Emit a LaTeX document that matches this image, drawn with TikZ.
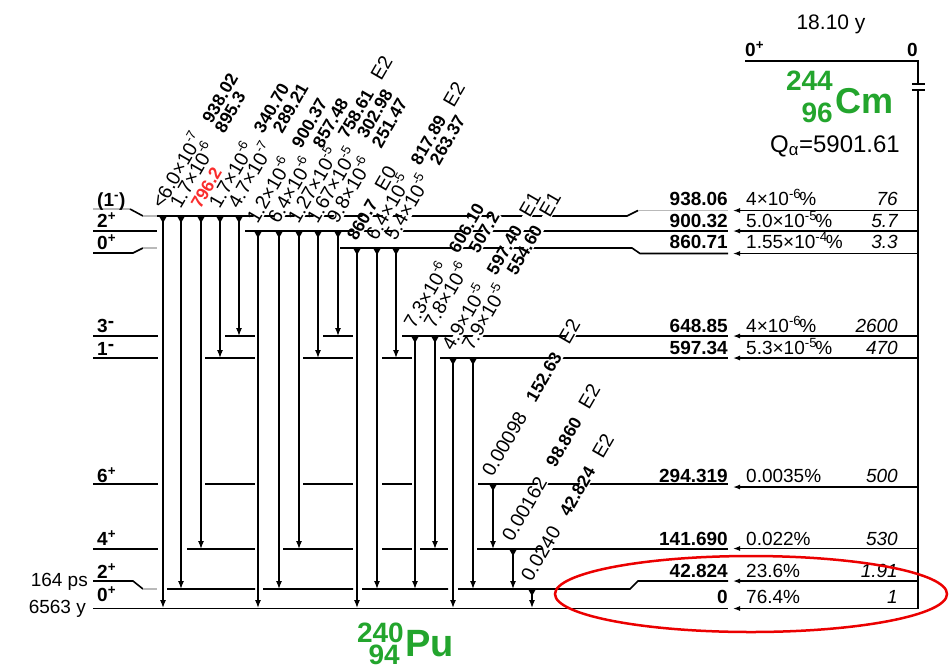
\documentclass[tikz,border=0pt]{standalone}
\usepackage{fontspec}
\setmainfont{Liberation Sans}
\usetikzlibrary{arrows.meta}
\definecolor{nucgreen}{RGB}{35,165,45}
\definecolor{labred}{RGB}{250,45,45}
\definecolor{ellred}{RGB}{235,0,0}
\newcommand\fsz[1]{\fontsize{#1}{#1}\selectfont}
\newcommand\tenp[1]{×10\textsuperscript{#1}}
\newcommand\rtenp[1]{×10\raisebox{0.42em}{\fsz{13}#1}}
\newcommand\en[1]{{\fsz{17.5}\bfseries #1}}
% transition: name, x, ytop, ybottom, label
\newcommand\gtrans[5]{%
  \coordinate (#1-t) at (#2,#3);
  \coordinate (#1-b) at (#2,#4);
  \draw[trarrow] (#1-t) -- (#1-b);
  \fill (#2-4,#3) -- (#2+4,#3) -- (#2,#3+7) -- cycle;
  \node[tlab] (#1-l) at (#2-1,#3-5) {#5};}
\begin{document}
\begin{tikzpicture}[x=1pt,y=-1pt,
  lv/.style={line width=1.6pt},
  lvg/.style={line width=1.6pt,gray!55},
  trarrow/.style={line width=1.3pt,-{Latex[length=8pt,width=6pt]}},
  alarrow/.style={line width=1.3pt,-{Latex[length=7pt,width=5pt]}},
  tlab/.style={rotate=60,anchor=base west,inner sep=1pt,fill=white,
    text height=1.25ex,text depth=0pt,font=\fsz{19.5}},
  lvlab/.style={anchor=base west,inner sep=0pt,font=\fsz{19}\bfseries},
  enlab/.style={anchor=base east,inner sep=0pt,font=\fsz{19}\bfseries},
  inlab/.style={anchor=base west,inner sep=0pt,font=\fsz{19}},
  hflab/.style={anchor=base east,inner sep=0pt,font=\fsz{19}\itshape},
  nuc/.style={inner sep=0pt,text=nucgreen,font=\bfseries}]
\useasboundingbox (0,0) rectangle (950,670);

% ---- daughter levels (240Pu)
% 938.06
\draw[lvg] (93,209)--(130,209);
\draw[lv] (130,209)--(143,216);
\draw[lvg] (143,216)--(157,216);
\draw[lv] (157,216)--(627,216)--(638,210.5);
\draw[lvg] (638,210.5)--(728,210.5);
% 900.32
\draw[lv] (93,231)--(157,231) (245,231)--(728,231);
% 860.71
\draw[lv] (93,253)--(133,253)--(143,248);
\draw[lvg] (143,248)--(157,248);
\draw[lv] (340,248)--(632,248)--(640,253.5)--(728,253.5);
% 648.85
\draw[lv] (93,336)--(158,336) (225,336)--(255,336) (323,336)--(353,336) (402,336)--(728,336);
% 597.34
\draw[lv] (93,358)--(158,358) (205,358)--(255,358) (303,358)--(353,358) (382,358)--(412,358) (440,358)--(728,358);
% 294.319
\draw[lv] (93,484)--(158,484) (205,484)--(255,484) (303,484)--(353,484) (382,484)--(412,484) (478,484)--(728,484);
% 141.690
\draw[lv] (93,549)--(158,549) (187,549)--(255,549) (283,549)--(353,549) (382,549)--(412,549) (420,549)--(448,549) (477,549)--(728,549);
% 42.824
\draw[lv] (93,581)--(133,581)--(143,589);
\draw[lvg] (143,589)--(157,589);
\draw[lv] (167,589)--(255,589) (263,589)--(353,589) (362,589)--(448,589) (458,589)--(630,589)--(638,581)--(728,581);
% 0
\draw[lv] (93,608.5)--(728,608.5);

% ---- parent level (244Cm) and alpha feeding
\coordinate (pl) at (745,61);
\coordinate (pc) at (918,61);
\coordinate (pb) at (918,608.5);
\draw[lv] (pl)--(pc)--(pb);
\fill[white] (912,84) rectangle (925,90);
\draw[line width=1.1pt] (912,84)--(925,84) (912,90)--(925,90);
\foreach \y [count=\i] in {210.5,231,253.5,336,358,487,548.5,581,608.5}{
  \coordinate (ap\i) at (918,\y);
  \coordinate (ad\i) at (733,\y);
  \draw[alarrow] (ap\i) -- (ad\i);
}

% ---- gamma transitions
\gtrans{t1a}{163}{216}{608}{<6.0\rtenp{-7}\hspace{0.8em}\en{938.02}}
\gtrans{t1b}{181}{216}{589}{1.7\rtenp{-6}\hspace{0.8em}\en{895.3}}
\gtrans{t1c}{201}{216}{549}{\textcolor{labred}{\en{796.2}}}
\gtrans{t1d}{220}{216}{358}{1.7\rtenp{-6}\hspace{0.8em}\en{340.70}}
\gtrans{t1e}{239}{216}{336}{4.7\rtenp{-7}\hspace{0.8em}\en{289.21}}

\gtrans{t2a}{258}{231}{608}{1.2\rtenp{-6}\hspace{0.8em}\en{900.37}}
\gtrans{t2b}{279}{231}{589}{6.4\rtenp{-6}\hspace{0.8em}\en{857.48}}
\gtrans{t2c}{299}{231}{549}{1.27\rtenp{-5}\hspace{0.8em}\en{758.61}\hspace{0.7em}E2}
\gtrans{t2d}{318}{231}{358}{1.67\rtenp{-5}\hspace{0.8em}\en{302.98}}
\gtrans{t2e}{338}{231}{336}{9.8\rtenp{-6}\hspace{0.8em}\en{251.47}}

\gtrans{t3a}{357}{248}{608}{\en{860.7}\hspace{0.7em}E0}
\gtrans{t3b}{377}{248}{589}{6.4\rtenp{-5}\hspace{0.8em}\en{817.89}\hspace{0.7em}E2}
\gtrans{t3c}{396}{248}{358}{5.4\rtenp{-5}\hspace{0.8em}\en{263.37}}

\gtrans{t4a}{415}{336}{589}{7.3\rtenp{-6}\hspace{0.8em}\en{606.10}}
\gtrans{t4b}{435}{336}{549}{7.8\rtenp{-6}\hspace{0.8em}\en{507.2}}

\gtrans{t5a}{453}{358}{608}{4.9\rtenp{-5}\hspace{0.8em}\en{597.40}\hspace{0.7em}E1}
\gtrans{t5b}{473}{358}{589}{7.9\rtenp{-5}\hspace{0.8em}\en{554.60}\hspace{0.7em}E1}

\gtrans{t6a}{493}{484}{549}{0.00098\hspace{0.8em}\en{152.63}\hspace{0.7em}E2}
\gtrans{t6b}{513}{549}{589}{0.00162\hspace{0.8em}\en{98.860}\hspace{0.7em}E2}
\gtrans{t6c}{532}{589}{608}{0.0240\hspace{0.8em}\en{42.824}\hspace{0.7em}E2}

% ---- level spins (left)
\node[lvlab] (s1) at (97,206) {(1\textsuperscript{-})};
\node[lvlab] (s2) at (97,227) {2\textsuperscript{+}};
\node[lvlab] (s3) at (97,249) {0\textsuperscript{+}};
\node[lvlab] (s4) at (97,332) {3\raisebox{0.25em}{-}};
\node[lvlab] (s5) at (97,355) {1\raisebox{0.25em}{-}};
\node[lvlab] (s6) at (97,482) {6\textsuperscript{+}};
\node[lvlab] (s7) at (97,545) {4\textsuperscript{+}};
\node[lvlab] (s8) at (97,578) {2\textsuperscript{+}};
\node[lvlab] (s9) at (97,601) {0\textsuperscript{+}};
\node[anchor=base east,inner sep=0pt,font=\fsz{19}] (hl1) at (88,586) {164 ps};
\node[anchor=base east,inner sep=0pt,font=\fsz{19}] (hl2) at (86,613) {6563 y};

% ---- energies, alpha intensities, hindrance factors
\node[enlab] (e1) at (728,205) {938.06};
\node[enlab] (e2) at (728,227) {900.32};
\node[enlab] (e3) at (728,248) {860.71};
\node[enlab] (e4) at (728,332) {648.85};
\node[enlab] (e5) at (728,354) {597.34};
\node[enlab] (e6) at (728,482) {294.319};
\node[enlab] (e7) at (728,545) {141.690};
\node[enlab] (e8) at (728,577) {42.824};
\node[enlab] (e9) at (728,603) {0};

\node[inlab] (i1) at (746,205) {4\tenp{-6}\kern-0.1em\%};
\node[inlab] (i2) at (746,227) {5.0\tenp{-5}\kern-0.1em\%};
\node[inlab] (i3) at (746,248) {1.55\tenp{-4}\kern-0.1em\%};
\node[inlab] (i4) at (746,332) {4\tenp{-6}\kern-0.1em\%};
\node[inlab] (i5) at (746,354) {5.3\tenp{-5}\kern-0.1em\%};
\node[inlab] (i6) at (746,482) {0.0035\%};
\node[inlab] (i7) at (746,545) {0.022\%};
\node[inlab] (i8) at (746,577) {23.6\%};
\node[inlab] (i9) at (746,603) {76.4\%};

\node[hflab] (h1) at (898,205) {76};
\node[hflab] (h2) at (898,227) {5.7};
\node[hflab] (h3) at (898,248) {3.3};
\node[hflab] (h4) at (898,332) {2600};
\node[hflab] (h5) at (898,354) {470};
\node[hflab] (h6) at (898,482) {500};
\node[hflab] (h7) at (898,545) {530};
\node[hflab] (h8) at (898,577) {1.91};
\node[hflab] (h9) at (898,603) {1};

% ---- parent data
\node[anchor=base,inner sep=0pt,font=\fsz{21}] (thalf) at (831,29) {18.10 y};
\node[anchor=base west,inner sep=0pt,font=\fsz{19}\bfseries] (pspin) at (745,56) {0\textsuperscript{+}};
\node[anchor=base east,inner sep=0pt,font=\fsz{19}\bfseries] (pen) at (918,56) {0};
\node[nuc,anchor=base east,font=\fsz{28}\bfseries] (cmA) at (833,90) {244};
\node[nuc,anchor=base east,font=\fsz{28}\bfseries] (cmZ) at (833,122) {96};
\node[nuc,anchor=base west,font=\fsz{36}\bfseries] (cm) at (835,113) {Cm};
\node[anchor=base west,inner sep=0pt,font=\fsz{24}] (qa) at (770,152) {Q\textsubscript{α}=5901.61};

% ---- daughter name
\node[nuc,anchor=base east,font=\fsz{28}\bfseries] (puA) at (404,642) {240};
\node[nuc,anchor=base east,font=\fsz{28}\bfseries] (puZ) at (400,664) {94};
\node[nuc,anchor=base west,font=\fsz{38}\bfseries] (pu) at (405,656) {Pu};

% ---- highlight
\draw[ellred,line width=2.5pt] (751,594) ellipse [x radius=196, y radius=38];
\end{tikzpicture}
\end{document}
